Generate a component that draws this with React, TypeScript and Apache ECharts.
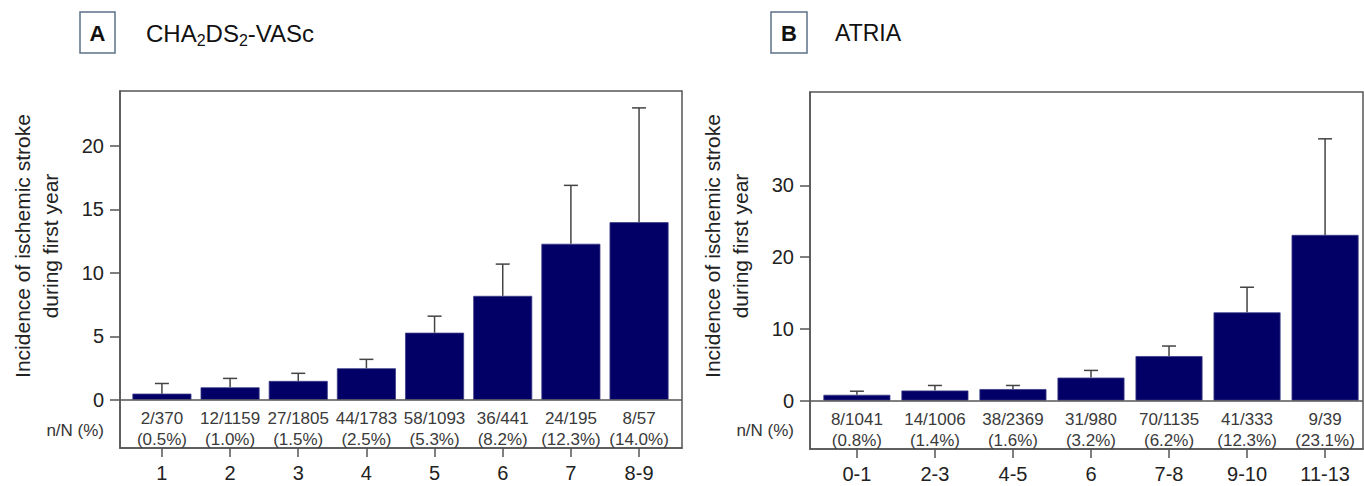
import React, { useEffect, useRef } from "react";
import * as echarts from "echarts";

const FONT = "'Liberation Sans', Arial, Helvetica, sans-serif";

// Panel A: CHA2DS2-VASc
const catsA = ["1", "2", "3", "4", "5", "6", "7", "8-9"];
const valsA = [0.5, 1.0, 1.5, 2.5, 5.3, 8.2, 12.3, 14.0];
const upperA = [1.3, 1.7, 2.1, 3.2, 6.6, 10.7, 16.9, 23.0];
const nA = [2, 12, 27, 44, 58, 36, 24, 8];
const NA = [370, 1159, 1805, 1783, 1093, 441, 195, 57];
const yTicksA = [0, 5, 10, 15, 20];

// Panel B: ATRIA
const catsB = ["0-1", "2-3", "4-5", "6", "7-8", "9-10", "11-13"];
const valsB = [0.8, 1.4, 1.6, 3.2, 6.2, 12.3, 23.1];
const upperB = [1.3, 2.1, 2.1, 4.2, 7.6, 15.8, 36.5];
const nB = [8, 14, 38, 31, 70, 41, 9];
const NB = [1041, 1006, 2369, 980, 1135, 333, 39];
const yTicksB = [0, 10, 20, 30];

const yTitle = "Incidence of ischemic stroke\nduring first year";
const nLabel = "n/N (%)";

const FRAME = "#555555";
const BAR = "#020066";
const TXT = "#222222";

function buildPanel(idx: number, cats: string[], vals: number[], upper: number[], n: number[], N: number[], barWidth: number) {
  const pos = cats.map((_, i) => i + 1);
  const bar = {
    type: "bar",
    xAxisIndex: idx,
    yAxisIndex: idx,
    barWidth,
    data: pos.map((p, i) => [p, vals[i]]),
    itemStyle: { color: BAR, borderColor: "#3c3c88", borderWidth: 0.8 },
    z: 2,
    markLine: {
      silent: true,
      symbol: ["none", "none"],
      label: { show: false },
      lineStyle: { color: FRAME, width: 1.5, type: "solid" },
      data: [{ yAxis: 0 }],
    },
  };
  const err = {
    type: "custom",
    xAxisIndex: idx,
    yAxisIndex: idx,
    z: 3,
    data: pos.map((p, i) => [p, vals[i], upper[i]]),
    renderItem: (params: any, api: any) => {
      const x = api.value(0);
      const a = api.coord([x, api.value(1)]);
      const b = api.coord([x, api.value(2)]);
      const style = { stroke: "#444", lineWidth: 1.5 };
      return {
        type: "group",
        children: [
          { type: "line", shape: { x1: a[0], y1: a[1], x2: b[0], y2: b[1] }, style },
          { type: "line", shape: { x1: b[0] - 7, y1: b[1], x2: b[0] + 7, y2: b[1] }, style },
        ],
      };
    },
  };
  const labels = {
    type: "custom",
    xAxisIndex: idx,
    yAxisIndex: idx,
    z: 4,
    silent: true,
    data: pos.map((p) => [p, 0]),
    renderItem: (params: any, api: any) => {
      const i = params.dataIndex;
      const c = api.coord([api.value(0), 0]);
      return {
        type: "text",
        x: c[0],
        y: c[1] + 29.5,
        style: {
          text: `${n[i]}/${N[i]}\n(${vals[i].toFixed(1)}%)`,
          align: "center",
          verticalAlign: "middle",
          fontSize: 17,
          lineHeight: 21,
          fill: "#3a3a3a",
          fontFamily: FONT,
        },
      };
    },
  };
  return [bar, err, labels];
}

function xAxisFor(idx: number, cats: string[], min: number, max: number) {
  const pos = cats.map((_, i) => i + 1);
  return {
    gridIndex: idx,
    type: "value",
    min,
    max,
    axisLine: { show: true, onZero: false, lineStyle: { color: FRAME, width: 1.5 } },
    axisTick: { show: true, customValues: pos, length: 9, lineStyle: { color: FRAME, width: 1.5 } },
    axisLabel: {
      show: true,
      customValues: pos,
      formatter: (v: number) => cats[Math.round(v) - 1] ?? "",
      fontSize: 20,
      color: TXT,
      margin: 15,
      fontFamily: FONT,
    },
    splitLine: { show: false },
  };
}

function yAxisFor(idx: number, ticks: number[], min: number, max: number) {
  return {
    gridIndex: idx,
    type: "value",
    min,
    max,
    axisLine: { show: true, lineStyle: { color: FRAME, width: 1.5 } },
    axisTick: { show: true, customValues: ticks, length: 10, lineStyle: { color: FRAME, width: 1.5 } },
    axisLabel: { show: true, customValues: ticks, fontSize: 20, color: TXT, margin: 16, fontFamily: FONT },
    splitLine: { show: false },
  };
}

export default function App() {
  const ref = useRef<HTMLDivElement>(null);
  useEffect(() => {
    if (!ref.current) return;
    const chart = echarts.init(ref.current, null, { renderer: "svg" });
    const option: any = {
      animation: false,
      backgroundColor: "#ffffff",
      grid: [
        { left: 120, top: 91, width: 562, height: 357, show: true, borderColor: FRAME, borderWidth: 1.5, backgroundColor: "transparent" },
        { left: 810, top: 92, width: 553, height: 357, show: true, borderColor: FRAME, borderWidth: 1.5, backgroundColor: "transparent" },
      ],
      xAxis: [xAxisFor(0, catsA, 0.385, 8.63), xAxisFor(1, catsB, 0.399, 7.486)],
      yAxis: [yAxisFor(0, yTicksA, -3.78, 24.33), yAxisFor(1, yTicksB, -6.76, 43.03)],
      series: [
        ...buildPanel(0, catsA, valsA, upperA, nA, NA, 59),
        ...buildPanel(1, catsB, valsB, upperB, nB, NB, 67),
      ],
      graphic: [
        { type: "rect", shape: { x: 80, y: 12, width: 35, height: 41 }, style: { fill: "none", stroke: "#5d7286", lineWidth: 1.5 } },
        { type: "text", x: 97.5, y: 33, style: { text: "A", align: "center", verticalAlign: "middle", fontSize: 22, fontWeight: "bold", fill: "#111", fontFamily: FONT } },
        {
          type: "text",
          x: 146,
          y: 33,
          style: {
            text: "{n|CHA}{s|2}{n|DS}{s|2}{n|-VASc}",
            verticalAlign: "middle",
            fill: "#111",
            fontFamily: FONT,
            rich: {
              n: { fontSize: 24, lineHeight: 30, fontFamily: FONT, fill: "#111" },
              s: { fontSize: 16, lineHeight: 14, verticalAlign: "bottom", fontFamily: FONT, fill: "#111" },
            },
          },
        },
        { type: "rect", shape: { x: 771, y: 12, width: 36, height: 41 }, style: { fill: "none", stroke: "#5d7286", lineWidth: 1.5 } },
        { type: "text", x: 789, y: 33, style: { text: "B", align: "center", verticalAlign: "middle", fontSize: 22, fontWeight: "bold", fill: "#111", fontFamily: FONT } },
        { type: "text", x: 835, y: 33, style: { text: "ATRIA", verticalAlign: "middle", fontSize: 23, fill: "#111", fontFamily: FONT } },
        { type: "text", x: 36, y: 246, rotation: Math.PI / 2, style: { text: yTitle, align: "center", verticalAlign: "middle", fontSize: 21, lineHeight: 28, fill: TXT, fontFamily: FONT } },
        { type: "text", x: 726, y: 246, rotation: Math.PI / 2, style: { text: yTitle, align: "center", verticalAlign: "middle", fontSize: 21, lineHeight: 28, fill: TXT, fontFamily: FONT } },
        { type: "text", x: 104, y: 430, style: { text: nLabel, align: "right", verticalAlign: "middle", fontSize: 17, fill: "#333", fontFamily: FONT } },
        { type: "text", x: 794, y: 430, style: { text: nLabel, align: "right", verticalAlign: "middle", fontSize: 17, fill: "#333", fontFamily: FONT } },
      ],
    };
    chart.setOption(option);
    return () => chart.dispose();
  }, []);
  return <div ref={ref} style={{ position: "fixed", left: 0, top: 0, width: 1364, height: 486, background: "#fff" }} />;
}
